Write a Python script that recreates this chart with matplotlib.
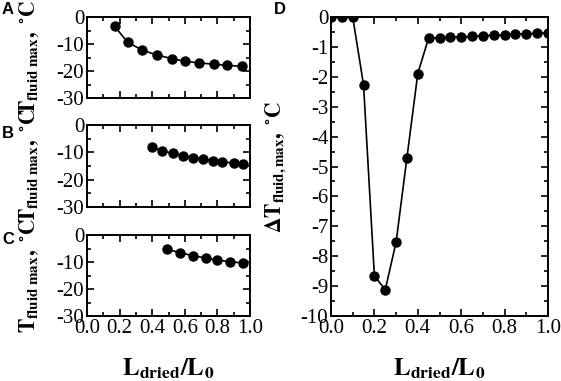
import numpy as np
import matplotlib
matplotlib.use("Agg")
import matplotlib.pyplot as plt
from matplotlib.ticker import MultipleLocator

plt.rcParams['font.family'] = 'Liberation Serif'
plt.rcParams['mathtext.fontset'] = 'stix'

# panel A
xa = [0.17, 0.25, 0.34, 0.43, 0.52, 0.60, 0.69, 0.78, 0.86, 0.95]
ya = [-3.5, -9.4, -12.3, -14.1, -15.4, -16.4, -17.0, -17.5, -17.9, -18.3]
# panel B
xb = [0.40, 0.46, 0.53, 0.59, 0.65, 0.71, 0.77, 0.83, 0.90, 0.96]
yb = [-8.1, -9.5, -10.4, -11.2, -11.9, -12.5, -13.0, -13.5, -13.9, -14.2]
# panel C
xc = [0.49, 0.57, 0.65, 0.73, 0.80, 0.88, 0.96]
yc = [-5.3, -6.5, -7.7, -8.5, -9.3, -9.9, -10.4]
# panel D
xd = [0.0, 0.05, 0.1, 0.15, 0.2, 0.25, 0.3, 0.35, 0.4, 0.45, 0.5,
      0.55, 0.6, 0.65, 0.7, 0.75, 0.8, 0.85, 0.9, 0.95, 1.0]
yd = [0.0, 0.0, 0.0, -2.27, -8.66, -9.12, -7.53, -4.70, -1.89, -0.70, -0.70,
      -0.68, -0.67, -0.65, -0.63, -0.61, -0.60, -0.58, -0.56, -0.55, -0.53]

xticks = [0.0, 0.2, 0.4, 0.6, 0.8, 1.0]
xticklabels = ['0.0', '0.2', '0.4', '0.6', '0.8', '1.0']

W, H = 561, 381
fig = plt.figure(figsize=(W / 100, H / 100), dpi=100)


def box(l, t, r, b):
    return [l / W, 1 - b / H, (r - l) / W, (b - t) / H]


def style(ax, ymin, xlabels):
    ax.set_xlim(0, 1)
    ax.set_xticks(xticks)
    ax.xaxis.set_minor_locator(MultipleLocator(0.1))
    ax.yaxis.set_minor_locator(MultipleLocator(ymin))
    ax.tick_params(which='both', direction='in', top=True, right=True,
                   width=1.2, labelsize=15, pad=2)
    ax.tick_params(which='major', length=5)
    ax.tick_params(which='minor', length=3)
    for s in ax.spines.values():
        s.set_linewidth(1.4)
    if xlabels:
        ax.set_xticklabels(xticklabels)
    else:
        ax.tick_params(labelbottom=False)


ylab = r'$\mathbf{T}_{\mathbf{fluid\ max}}\mathbf{,\ ^{\circ}C}$'
xlab = r'$\mathbf{L}_{\mathbf{dried}}\mathbf{/L}_{\mathbf{0}}$'

panels = [(xa, ya, 17, 98, 'A', 10), (xb, yb, 125, 207, 'B', 133),
          (xc, yc, 235, 316, 'C', 240)]
for i, (x, y, t, b, letter, ly) in enumerate(panels):
    ax = fig.add_axes(box(87, t, 250, b))
    ax.plot(x, y, '-o', color='black', lw=1.2, ms=6.5)
    ax.set_ylim(-30, 0)
    ax.set_yticks([0, -10, -20, -30])
    ax.set_yticklabels(['0', '-10', '-20', '-30'])
    style(ax, 5, i == 2)
    ax.set_ylabel(ylab, fontsize=15.5)
    ax.yaxis.set_label_coords(-0.28, 0.5)
    fig.text(8 / W, 1 - ly / H, letter, fontfamily='Liberation Sans',
             fontweight='bold', fontsize=12, ha='center', va='center')
    if i == 2:
        ax.set_xlabel(xlab, fontsize=18)
        ax.xaxis.set_label_coords(0.5, -0.5)

axd = fig.add_axes(box(331, 17, 548, 316))
axd.plot(xd, yd, '-o', color='black', lw=1.2, ms=6.5)
axd.set_ylim(-10, 0)
axd.set_yticks(np.arange(-10, 1, 1))
axd.set_yticklabels([str(v) for v in range(-10, 1)])
style(axd, 0.5, True)
axd.set_ylabel(r'$\mathbf{\Delta T}_{\mathbf{fluid,max}}\mathbf{,\ ^{\circ}C}$', fontsize=15.5)
axd.yaxis.set_label_coords(-0.2, 0.5)
axd.set_xlabel(xlab, fontsize=18)
axd.xaxis.set_label_coords(0.5, -0.137)
fig.text(280 / W, 1 - 10 / H, 'D', fontfamily='Liberation Sans',
         fontweight='bold', fontsize=12, ha='center', va='center')

fig.savefig('out.png', dpi=100)
